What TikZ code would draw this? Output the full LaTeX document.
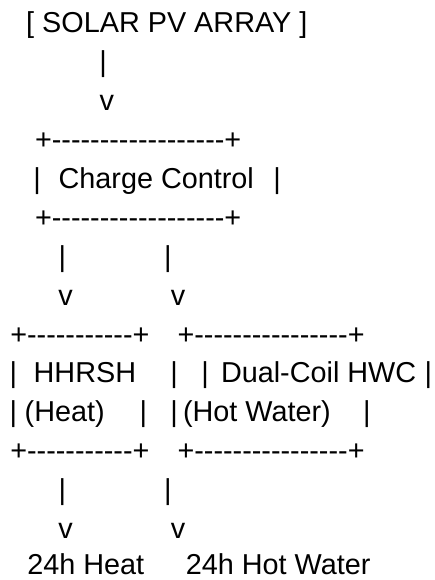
\documentclass[tikz,border=0pt]{standalone}
\usepackage{fontspec}
\setmainfont{Liberation Sans}
\newcommand\dshs[1]{\foreach \k in {1,...,#1}{\hbox{-}}}
\tikzset{
  t/.style={inner sep=0pt, outer sep=0pt, anchor=base west, text=black,
            font=\fontsize{28.8}{34}\selectfont},
}
\begin{document}
\begin{tikzpicture}[x=1pt,y=1pt]
\useasboundingbox (0,0) rectangle (435,-580);
% line 1-3
\node[t] (solar) at (26.2,-33) {[ SOLAR PV ARRAY ]};
\node[t] (p1) at (99.3,-71.9) {|};
\node[t] (v1) at (99.6,-110.7) {v};
% charge control box
\node[t] (cctop) at (35.0,-149.6) {+\dshs{18}+};
\node[t] (ccl) at (33.3,-188.4) {|};
\node[t] (cc) at (58.6,-188.4) {Charge Control};
\node[t] (ccr) at (273.3,-188.4) {|};
\node[t] (ccbot) at (35.0,-227.3) {+\dshs{18}+};
% arrows to boxes
\node[t] (p2a) at (58.6,-266.2) {|};
\node[t] (p2b) at (164.0,-266.2) {|};
\node[t] (v2a) at (58.3,-305.0) {v};
\node[t] (v2b) at (170.9,-305.0) {v};
% left box
\node[t] (htop) at (10.3,-344.0) {+\dshs{11}+};
\node[t] (hl1) at (9.6,-382.9) {|};
\node[t] (hname) at (33.7,-382.9) {HHRSH};
\node[t] (hr1) at (170.3,-382.9) {|};
\node[t] (hl2) at (9.6,-421.7) {|};
\node[t] (hsub) at (24.7,-421.7) {(Heat)};
\node[t] (hr2) at (139.6,-421.7) {|};
\node[t] (hbot) at (10.3,-460.6) {+\dshs{11}+};
% right box
\node[t] (wtop) at (177.5,-344.0) {+\dshs{16}+};
\node[t] (wl1) at (201.3,-382.9) {|};
\node[t] (wname) at (221.0,-382.9) {Dual-Coil HWC};
\node[t] (wr1) at (424.6,-382.9) {|};
\node[t] (wl2) at (170.3,-421.7) {|};
\node[t] (wsub) at (183.0,-421.7) {(Hot Water)};
\node[t] (wr2) at (363.0,-421.7) {|};
\node[t] (wbot) at (177.5,-460.6) {+\dshs{16}+};
% outputs
\node[t] (p3a) at (58.6,-499.4) {|};
\node[t] (p3b) at (164.0,-499.4) {|};
\node[t] (v3a) at (58.3,-538.3) {v};
\node[t] (v3b) at (170.9,-538.3) {v};
\node[t, text depth=0pt] (oheat) at (27.4,-574.0) {24h Heat};
\node[t, text depth=0pt] (owater) at (185.8,-574.0) {24h Hot Water};
\end{tikzpicture}
\end{document}
